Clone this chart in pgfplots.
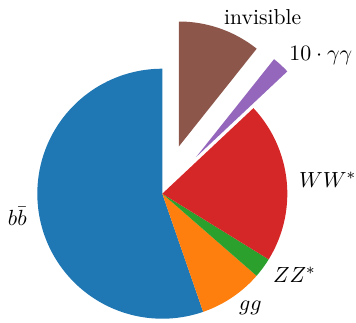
\documentclass[border=0pt]{standalone}
\usepackage{pgfplots}
\pgfplotsset{compat=1.18}
\definecolor{tabblue}{HTML}{1F77B4}
\definecolor{taborange}{HTML}{FF7F0E}
\definecolor{tabgreen}{HTML}{2CA02C}
\definecolor{tabred}{HTML}{D62728}
\definecolor{tabpurple}{HTML}{9467BD}
\definecolor{tabbrown}{HTML}{8C564B}
% branching fractions (normalised shares of the pie)
\def\fbb{0.553}
\def\fgg{0.083}
\def\fzz{0.026}
\def\fww{0.208}
\def\fgam{0.023}
\def\finv{0.107}
\def\R{125}
\def\cx{162.3}
\def\cy{128.3}
\pgfmathsetmacro{\aA}{90}
\pgfmathsetmacro{\aB}{\aA+360*\fbb}
\pgfmathsetmacro{\aC}{\aB+360*\fgg}
\pgfmathsetmacro{\aD}{\aC+360*\fzz}
\pgfmathsetmacro{\aE}{\aD+360*\fww}
\pgfmathsetmacro{\aF}{\aE+360*\fgam}
\pgfmathsetmacro{\aG}{\aF+360*\finv}
% explode offsets
\pgfmathsetmacro{\mF}{(\aE+\aF)/2}
\pgfmathsetmacro{\mG}{(\aF+\aG)/2}
\pgfmathsetmacro{\oxF}{0.4*\R*cos(\mF)}
\pgfmathsetmacro{\oyF}{0.4*\R*sin(\mF)}
\pgfmathsetmacro{\oxG}{0.4*\R*cos(\mG)}
\pgfmathsetmacro{\oyG}{0.4*\R*sin(\mG)}
% label positions
\pgfmathsetmacro{\mA}{(\aA+\aB)/2}
\pgfmathsetmacro{\mB}{(\aB+\aC)/2}
\pgfmathsetmacro{\mC}{(\aC+\aD)/2}
\pgfmathsetmacro{\mD}{(\aD+\aE)/2}
\pgfmathsetmacro{\lxA}{\cx+1.1*\R*cos(\mA)}\pgfmathsetmacro{\lyA}{\cy+1.1*\R*sin(\mA)}
\pgfmathsetmacro{\lxB}{\cx+1.1*\R*cos(\mB)}\pgfmathsetmacro{\lyB}{\cy+1.1*\R*sin(\mB)}
\pgfmathsetmacro{\lxC}{\cx+1.1*\R*cos(\mC)}\pgfmathsetmacro{\lyC}{\cy+1.1*\R*sin(\mC)}
\pgfmathsetmacro{\lxD}{\cx+1.1*\R*cos(\mD)}\pgfmathsetmacro{\lyD}{\cy+1.1*\R*sin(\mD)}
\pgfmathsetmacro{\lxF}{\cx+1.5*\R*cos(\mF)}\pgfmathsetmacro{\lyF}{\cy+1.5*\R*sin(\mF)}
\pgfmathsetmacro{\lxG}{\cx+1.5*\R*cos(\mG)}\pgfmathsetmacro{\lyG}{\cy+1.5*\R*sin(\mG)}
\newcommand{\piewedge}[5]{%
  \addplot[fill=#1, draw=none, samples at={-1,0,1,...,100,101}]
    ({\cx+#4+((x<0||x>100)?0:\R*cos(#2+(#3-#2)*x/100))},
     {\cy+#5+((x<0||x>100)?0:\R*sin(#2+(#3-#2)*x/100))});
}
\tikzset{lbl/.style={font=\fontsize{10.8}{13}\selectfont, inner sep=0pt, outer sep=0pt}}
\begin{document}
\begin{tikzpicture}
\begin{axis}[
  width=178pt, height=161pt, scale only axis,
  xmin=0, xmax=356, ymin=0, ymax=322,
  hide axis, clip=false,
]
\piewedge{tabblue}{\aA}{\aB}{0}{0}
\piewedge{taborange}{\aB}{\aC}{0}{0}
\piewedge{tabgreen}{\aC}{\aD}{0}{0}
\piewedge{tabred}{\aD}{\aE}{0}{0}
\piewedge{tabpurple}{\aE}{\aF}{\oxF}{\oyF}
\piewedge{tabbrown}{\aF}{\aG}{\oxG}{\oyG}
\node[lbl, anchor=east] at (axis cs:\lxA,\lyA) {$b\bar{b}$};
\node[lbl, anchor=west] at (axis cs:\lxB,\lyB) {$gg$};
\node[lbl, anchor=west] at (axis cs:\lxC,\lyC) {$ZZ^{*}$};
\node[lbl, anchor=west] at (axis cs:\lxD,\lyD) {$WW^{*}$};
\node[lbl, anchor=west] at (axis cs:\lxF,\lyF) {$10\cdot\gamma\gamma$};
\node[lbl, anchor=west] at (axis cs:\lxG,\lyG) {invisible};
\end{axis}
\pgfresetboundingbox
\path[use as bounding box] (current axis.south west) rectangle (current axis.north east);
\end{tikzpicture}
\end{document}
